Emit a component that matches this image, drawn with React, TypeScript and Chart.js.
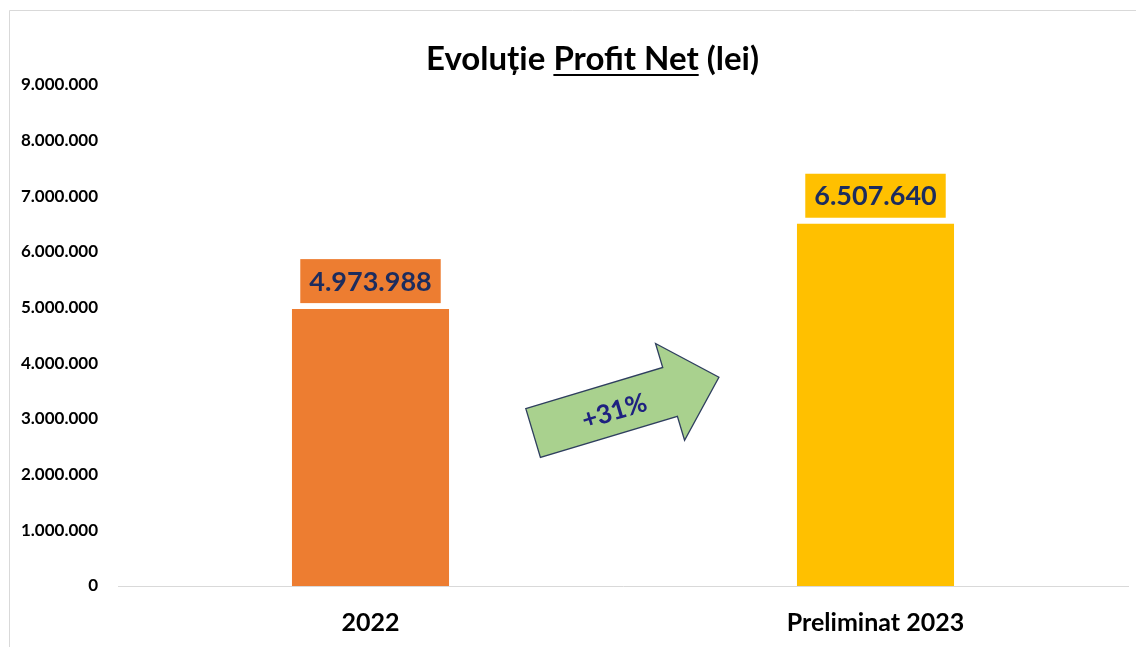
import React, { useEffect, useRef } from "react";
import { Chart, registerables } from "chart.js";

Chart.register(...registerables);

// ---- Data ----
const CATEGORIES = ["2022", "Preliminat 2023"];
const PROFIT_VALUES = [4973988, 6507640];
const BAR_COLORS = ["#ED7D31", "#FFC000"];
const Y_MIN = 0;
const Y_MAX = 9000000;
const Y_STEP = 1000000;
const TITLE_PARTS = ["Evoluție ", "Profit Net", " (lei)"];
const GROWTH_LABEL = "+31%";
const ARROW_ANCHOR_VALUE = 3250000;

const FONT = "Lato, 'Open Sans', sans-serif";
const LABEL_COLOR = "#1C2C5E";

const fmt = (n: number) =>
  Math.round(n)
    .toString()
    .replace(/\B(?=(\d{3})+(?!\d))/g, ".");

const framePlugin = {
  id: "frame",
  beforeDraw(chart: any) {
    const { ctx, width, height } = chart;
    ctx.save();
    ctx.fillStyle = "#FFFFFF";
    ctx.fillRect(0, 0, width, height);
    ctx.strokeStyle = "#D9D9D9";
    ctx.lineWidth = 1;
    ctx.beginPath();
    ctx.moveTo(9.5, height);
    ctx.lineTo(9.5, 10.5);
    ctx.lineTo(width, 10.5);
    ctx.stroke();
    ctx.restore();
  },
};

const titlePlugin = {
  id: "titleUnderline",
  afterDraw(chart: any) {
    const { ctx } = chart;
    ctx.save();
    ctx.font = `bold 33px ${FONT}`;
    ctx.fillStyle = "#000000";
    ctx.textBaseline = "alphabetic";
    ctx.textAlign = "left";
    const widths = TITLE_PARTS.map((p) => ctx.measureText(p).width);
    const total = widths.reduce((a, b) => a + b, 0);
    const cx = chart.width * 0.5216;
    const baseline = 70;
    let x = cx - total / 2;
    TITLE_PARTS.forEach((p, i) => {
      ctx.fillText(p, x, baseline);
      if (i === 1) {
        ctx.fillRect(x, baseline + 4, widths[i], 2);
      }
      x += widths[i];
    });
    ctx.restore();
  },
};

const valueLabelPlugin = {
  id: "valueLabels",
  afterDatasetsDraw(chart: any) {
    const { ctx } = chart;
    const meta = chart.getDatasetMeta(0);
    ctx.save();
    ctx.font = `bold 27px ${FONT}`;
    ctx.textAlign = "center";
    ctx.textBaseline = "middle";
    meta.data.forEach((bar: any, i: number) => {
      const text = fmt(PROFIT_VALUES[i]);
      const w = ctx.measureText(text).width + 18;
      const h = 44;
      const bottom = bar.y - 6;
      ctx.fillStyle = BAR_COLORS[i];
      ctx.fillRect(bar.x - w / 2, bottom - h, w, h);
      ctx.fillStyle = LABEL_COLOR;
      ctx.fillText(text, bar.x, bottom - h / 2 + 1);
    });
    ctx.restore();
  },
};

const arrowPlugin = {
  id: "growthArrow",
  afterDatasetsDraw(chart: any) {
    const { ctx, scales } = chart;
    const xs = scales.x;
    const ys = scales.y;
    const cx = (xs.getPixelForValue(0) + xs.getPixelForValue(1)) / 2 + 3;
    const cy = ys.getPixelForValue(ARROW_ANCHOR_VALUE);
    const angle = (-16.7 * Math.PI) / 180;
    const half = 97;
    const shaftHalf = 25.5;
    const headHalf = 50.5;
    const headLen = 51;
    ctx.save();
    ctx.translate(cx, cy);
    ctx.rotate(angle);
    ctx.beginPath();
    ctx.moveTo(-half, -shaftHalf);
    ctx.lineTo(half - headLen, -shaftHalf);
    ctx.lineTo(half - headLen, -headHalf);
    ctx.lineTo(half, 0);
    ctx.lineTo(half - headLen, headHalf);
    ctx.lineTo(half - headLen, shaftHalf);
    ctx.lineTo(-half, shaftHalf);
    ctx.closePath();
    ctx.fillStyle = "#A9D18E";
    ctx.fill();
    ctx.strokeStyle = "#2F3F5F";
    ctx.lineWidth = 1.3;
    ctx.stroke();
    ctx.font = `bold 26px ${FONT}`;
    ctx.fillStyle = "#1E2180";
    ctx.textAlign = "center";
    ctx.textBaseline = "middle";
    ctx.fillText(GROWTH_LABEL, -13, 3);
    ctx.restore();
  },
};

export default function App() {
  const canvasRef = useRef<HTMLCanvasElement | null>(null);

  useEffect(() => {
    if (!canvasRef.current) return;
    const chart = new Chart(canvasRef.current, {
      type: "bar",
      data: {
        labels: CATEGORIES,
        datasets: [
          {
            data: PROFIT_VALUES,
            backgroundColor: BAR_COLORS,
            borderWidth: 0,
            barPercentage: 0.311,
            categoryPercentage: 1,
          },
        ],
      },
      options: {
        animation: false,
        responsive: true,
        maintainAspectRatio: false,
        layout: { padding: { top: 85, left: 10, right: 8, bottom: 8 } },
        plugins: {
          legend: { display: false },
          title: { display: false },
          tooltip: { enabled: false },
        },
        scales: {
          x: {
            grid: { display: false, drawTicks: false },
            border: { display: true, color: "#D9D9D9", width: 1 },
            ticks: {
              padding: 22,
              color: "#000000",
              font: { family: FONT, weight: "bold", size: 25 },
            },
            afterFit: (scale: any) => {
              scale.height = 53;
            },
          },
          y: {
            min: Y_MIN,
            max: Y_MAX,
            grid: { display: false, drawTicks: false },
            border: { display: false },
            ticks: {
              stepSize: Y_STEP,
              padding: 20,
              color: "#000000",
              font: { family: FONT, weight: "bold", size: 17 },
              callback: (v: any) => fmt(Number(v)),
            },
            afterFit: (scale: any) => {
              scale.width = 108;
            },
          },
        },
      },
      plugins: [framePlugin, titlePlugin, valueLabelPlugin, arrowPlugin],
    });
    return () => chart.destroy();
  }, []);

  return (
    <div
      style={{
        position: "fixed",
        left: 0,
        top: 0,
        width: 1136,
        height: 647,
        background: "#FFFFFF",
      }}
    >
      <canvas ref={canvasRef} />
    </div>
  );
}
